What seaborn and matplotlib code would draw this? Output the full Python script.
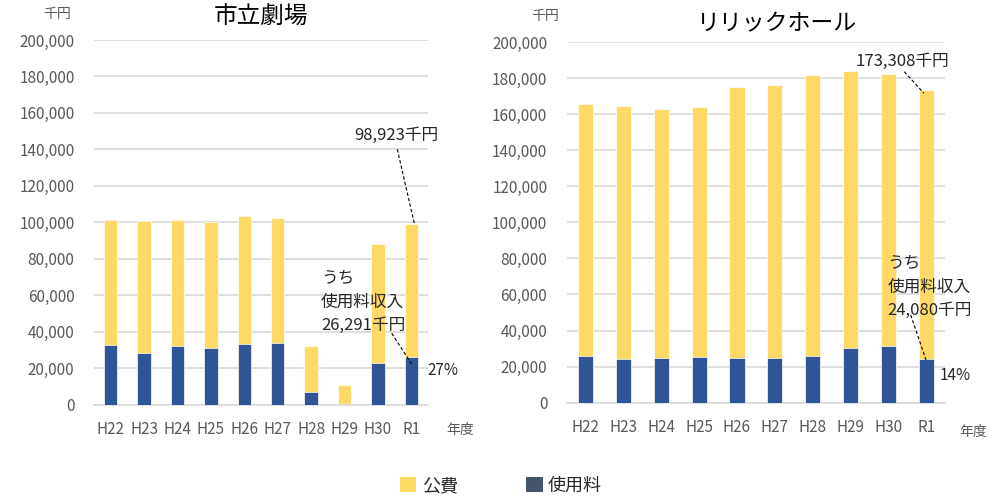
import matplotlib
matplotlib.use("Agg")
import matplotlib.pyplot as plt
import seaborn as sns
import pandas as pd
from matplotlib.patches import Patch

sns.set_theme(style="white")
plt.rcParams['font.family'] = ['Noto Sans CJK JP', 'DejaVu Sans']

years = ["H22", "H23", "H24", "H25", "H26", "H27", "H28", "H29", "H30", "R1"]
theater_total = [101300, 100600, 101300, 100400, 103500, 102200, 32200, 11000, 88100, 98923]
theater_fee = [32500, 28300, 32100, 31200, 33200, 33600, 7200, 0, 23000, 26291]
lyric_total = [165600, 164700, 162700, 164000, 175200, 176200, 181500, 184100, 182300, 173308]
lyric_fee = [25900, 24200, 25000, 25500, 25000, 25000, 25700, 30200, 31400, 24080]
titles = ["市立劇場", "リリックホール"]
legend_labels = ["公費", "使用料"]

YELLOW = "#FFD966"
BLUE = "#2F5597"
LEG_BLUE = "#44546A"
GRAY = "#595959"
GRID = "#D9D9D9"

fig = plt.figure(figsize=(10.08, 5.0), dpi=100)
ax1 = fig.add_axes([94/1008, 1-404.7/500, 334/1008, 364.7/500])
ax2 = fig.add_axes([566.7/1008, 1-402.7/500, 378.3/1008, 360.7/500])


def draw(ax, total, fee):
    df = pd.DataFrame({"year": years, "total": total, "fee": fee})
    sns.barplot(data=df, x="year", y="total", color=YELLOW, width=0.4,
                saturation=1, ax=ax, edgecolor="white", linewidth=0.5, zorder=2)
    sns.barplot(data=df, x="year", y="fee", color=BLUE, width=0.4,
                saturation=1, ax=ax, edgecolor="white", linewidth=0.5, zorder=3)
    ax.set_xlim(-0.5, 9.5)
    ax.set_ylim(0, 200000)
    ax.set_yticks(range(0, 200001, 20000))
    ax.set_yticklabels([f"{v:,}" for v in range(0, 200001, 20000)])
    ax.yaxis.grid(True, color=GRID, linewidth=1.2, zorder=0)
    ax.set_axisbelow(True)
    for s in ["top", "right", "left"]:
        ax.spines[s].set_visible(False)
    ax.spines["bottom"].set_color(GRID)
    ax.spines["bottom"].set_linewidth(1.2)
    ax.tick_params(axis="both", length=0, colors=GRAY, labelsize=11)
    ax.tick_params(axis="x", pad=12)
    ax.tick_params(axis="y", pad=14)
    ax.set_xlabel("")
    ax.set_ylabel("")


draw(ax1, theater_total, theater_fee)
draw(ax2, lyric_total, lyric_fee)

# titles
fig.text(261/1008, 1-17/500, titles[0], ha="center", va="center", fontsize=17, color="black")
fig.text(777/1008, 1-24/500, titles[1], ha="center", va="center", fontsize=16.5, color="black")

# unit labels
fig.text(57.5/1008, 1-14/500, "千円", ha="center", va="center", fontsize=10, color=GRAY)
fig.text(545/1008, 1-16/500, "千円", ha="center", va="center", fontsize=10, color=GRAY)
fig.text(460/1008, 1-430/500, "年度", ha="center", va="center", fontsize=10, color=GRAY)
fig.text(973/1008, 1-432/500, "年度", ha="center", va="center", fontsize=10, color=GRAY)


def px(x, y):
    return (x/1008, 1-y/500)


def dash(x0, y0, x1, y1):
    fig.add_artist(plt.Line2D([x0/1008, x1/1008], [1-y0/500, 1-y1/500],
                              color="black", linewidth=0.8, linestyle=(0, (3, 2))))


ANN = 12
# left annotations
fig.text(*px(396, 135), f"{theater_total[-1]:,}千円", ha="center", va="center", fontsize=ANN)
dash(397.3, 149.3, 414.3, 223.3)
fig.text(*px(321, 278), "うち", ha="left", va="center", fontsize=ANN)
fig.text(*px(321, 302), "使用料収入", ha="left", va="center", fontsize=ANN)
fig.text(*px(321, 325), f"{theater_fee[-1]:,}千円", ha="left", va="center", fontsize=ANN)
dash(391.7, 333.3, 412.3, 365)
fig.text(*px(427.7, 370.7), "27%", ha="left", va="center", fontsize=11)

# right annotations
fig.text(*px(902.5, 61.7), f"{lyric_total[-1]:,}千円", ha="center", va="center", fontsize=ANN)
dash(904.3, 71.7, 924, 93.3)
fig.text(*px(887.3, 263.3), "うち", ha="left", va="center", fontsize=ANN)
fig.text(*px(887.3, 287), "使用料収入", ha="left", va="center", fontsize=ANN)
fig.text(*px(887.3, 310), f"{lyric_fee[-1]:,}千円", ha="left", va="center", fontsize=ANN)
dash(910.7, 315, 926, 360)
fig.text(*px(940, 376), "14%", ha="left", va="center", fontsize=11)

handles = [Patch(facecolor=YELLOW, edgecolor="none", label=legend_labels[0]),
           Patch(facecolor=LEG_BLUE, edgecolor="none", label=legend_labels[1])]
fig.legend(handles=handles, loc="center", bbox_to_anchor=(501/1008, 1-486/500), ncol=2,
           frameon=False, fontsize=13, handlelength=0.9, handleheight=0.9,
           handletextpad=0.3, columnspacing=3.8)

fig.savefig("out.png", dpi=100)
